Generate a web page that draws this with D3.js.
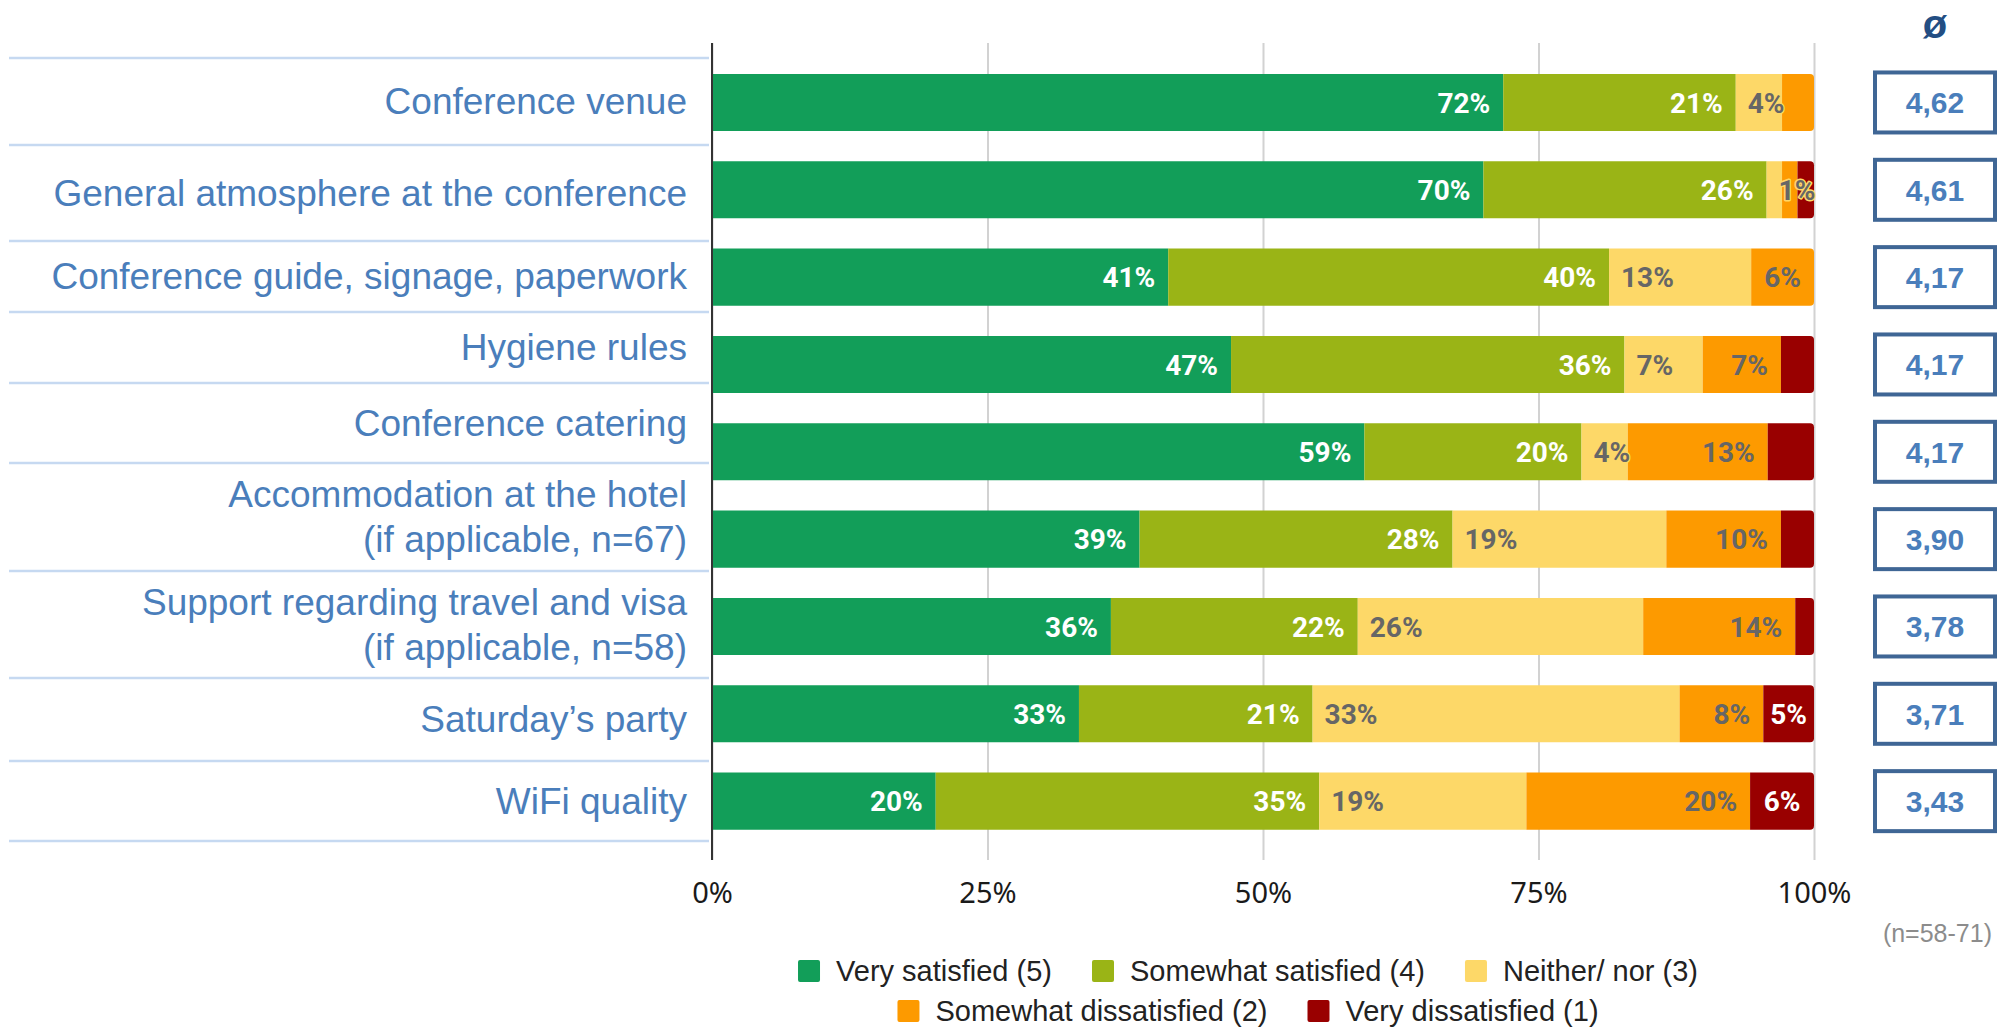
<!DOCTYPE html>
<html>
<head>
<meta charset="utf-8">
<script src="https://cdn.jsdelivr.net/npm/d3@7"></script>
<style>
body { margin: 0; background: #fff; }
svg { display: block; }
</style>
</head>
<body>
<svg id="chart" width="2012" height="1029"></svg>
<script>
// data (percent of respondents)
const categories = [
    ["Conference venue"],
    ["General atmosphere at the conference"],
    ["Conference guide, signage, paperwork"],
    ["Hygiene rules"],
    ["Conference catering"],
    ["Accommodation at the hotel", "(if applicable, n=67)"],
    ["Support regarding travel and visa", "(if applicable, n=58)"],
    ["Saturday’s party"],
    ["WiFi quality"]
];
const seriesNames = ["Very satisfied (5)", "Somewhat satisfied (4)", "Neither/ nor (3)", "Somewhat dissatisfied (2)", "Very dissatisfied (1)"];
const verySatisfied     = [71.8, 70.0, 41.4, 47.1, 59.2, 38.8, 36.2, 33.3, 20.3];
const somewhatSatisfied = [21.1, 25.7, 40.0, 35.7, 19.7, 28.4, 22.4, 21.2, 34.8];
const neitherNor        = [4.2, 1.4, 12.9, 7.1, 4.2, 19.4, 25.9, 33.3, 18.8];
const somewhatDissat    = [2.9, 1.4, 5.7, 7.1, 12.7, 10.4, 13.8, 7.6, 20.3];
const veryDissat        = [0, 1.5, 0, 3.0, 4.2, 3.0, 1.7, 4.6, 5.8];
const averages = [4.62, 4.61, 4.17, 4.17, 4.17, 3.90, 3.78, 3.71, 3.43];
const xTicks = [0, 25, 50, 75, 100];
const sampleNote = "(n=58-71)";

const colors = ["#129e59", "#9ab416", "#fdd868", "#fd9a00", "#990000"];

// layout
const svg = d3.select("#chart");
const x = d3.scaleLinear().domain([0, 100]).range([712, 1814]);
const y = d3.scaleBand().domain(d3.range(categories.length))
    .range([58.8, 844.8]).paddingInner(0.347).paddingOuter(0.1735);
const gridTop = 43, gridBottom = 860;
// borders of the label cells on the left
const labelCells = [58, 145, 241, 312, 383, 463, 571, 678, 761, 841];

const keys = ["v0", "v1", "v2", "v3", "v4"];
const rows = categories.map((c, i) => ({
    i: i,
    v0: verySatisfied[i], v1: somewhatSatisfied[i], v2: neitherNor[i],
    v3: somewhatDissat[i], v4: veryDissat[i]
}));
const stacked = d3.stack().keys(keys)(rows);

// gridlines
svg.append("g")
    .attr("transform", `translate(0,${gridTop})`)
    .call(d3.axisTop(x).tickValues(xTicks).tickSize(-(gridBottom - gridTop)).tickFormat(""))
    .call(g => g.select(".domain").remove())
    .call(g => g.selectAll("line").attr("stroke", "#d2d2d2").attr("stroke-width", 2));

// tick labels
svg.append("g")
    .attr("transform", `translate(0,${gridBottom})`)
    .call(d3.axisBottom(x).tickValues(xTicks).tickSize(0).tickPadding(22).tickFormat(d => d + "%"))
    .call(g => g.select(".domain").remove())
    .call(g => g.selectAll("text")
        .attr("font-family", "'Noto Sans', sans-serif")
        .attr("font-size", 29)
        .attr("fill", "#1a1a1a"));

// label separators
svg.append("g").selectAll("line")
    .data(labelCells)
    .join("line")
    .attr("x1", 9).attr("x2", 709)
    .attr("y1", d => d).attr("y2", d => d)
    .attr("stroke", "#c6d9f1").attr("stroke-width", 2.5);

// category labels
const lineH = 45;
const labelG = svg.append("g")
    .attr("font-family", "'Liberation Sans', Arial, sans-serif")
    .attr("font-size", 37)
    .attr("fill", "#4a7ebb")
    .attr("text-anchor", "end");
categories.forEach((lines, i) => {
    const mid = (labelCells[i] + labelCells[i + 1]) / 2;
    lines.forEach((t, k) => {
        labelG.append("text")
            .attr("x", 687)
            .attr("y", mid + (k - (lines.length - 1) / 2) * lineH)
            .attr("dy", "0.35em")
            .text(t);
    });
});

// bars
function lastIndex(r) {
    let last = 0;
    keys.forEach((k, j) => { if (r[k] > 0) last = j; });
    return last;
}
function segPath(x0, x1, y0, h, round) {
    const r = round ? Math.min(4, (x1 - x0) / 2) : 0;
    return `M${x0},${y0}H${x1 - r}Q${x1},${y0} ${x1},${y0 + r}V${y0 + h - r}Q${x1},${y0 + h} ${x1 - r},${y0 + h}H${x0}Z`;
}
stacked.forEach((s, j) => {
    svg.append("g").selectAll("path")
        .data(s.filter(d => d[1] - d[0] > 0))
        .join("path")
        .attr("fill", colors[j])
        .attr("d", d => segPath(x(d[0]), x(d[1]), y(d.data.i), y.bandwidth(), lastIndex(d.data) === j));
});

// value labels
const labelMode = ["end", "end", "start", "end", "middle"];
const labelColor = ["#fff", "#fff", "#666", "#666", "#fff"];
stacked.forEach((s, j) => {
    const g = svg.append("g")
        .attr("font-family", "Roboto, sans-serif")
        .attr("font-weight", "bold")
        .attr("font-size", 28)
        .attr("fill", labelColor[j]);
    s.forEach(d => {
        const v = d[1] - d[0];
        if (v <= 0) return;
        if (j !== 2 && v < 4.4) return;
        let xp, anchor;
        if (labelMode[j] === "end") { xp = x(d[1]) - 13; anchor = "end"; }
        else if (labelMode[j] === "start") { xp = x(d[0]) + 12; anchor = "start"; }
        else { xp = (x(d[0]) + x(d[1])) / 2; anchor = "middle"; }
        const t = g.append("text")
            .attr("x", xp)
            .attr("y", y(d.data.i) + y.bandwidth() / 2)
            .attr("dy", "0.36em")
            .attr("text-anchor", anchor)
            .text(Math.round(v) + "%");
        if (j === 2) {
            t.attr("stroke", colors[2]).attr("stroke-width", 3)
             .attr("paint-order", "stroke").attr("stroke-linejoin", "round");
        }
    });
});

// axis line at 0%
svg.append("line")
    .attr("x1", x(0)).attr("x2", x(0))
    .attr("y1", gridTop).attr("y2", gridBottom)
    .attr("stroke", "#333").attr("stroke-width", 2);

// averages column
const boxX = 1875, boxW = 120, boxH = 60;
const fmtAvg = v => d3.format(".2f")(v).replace(".", ",");
svg.append("text")
    .attr("x", boxX + boxW / 2).attr("y", 38)
    .attr("text-anchor", "middle")
    .attr("font-family", "'Liberation Sans', Arial, sans-serif")
    .attr("font-weight", "bold")
    .attr("font-size", 40)
    .attr("fill", "#234e83")
    .text("ø");
const avgG = svg.append("g").selectAll("g")
    .data(averages)
    .join("g")
    .attr("transform", (d, i) => `translate(${boxX},${y(i) + y.bandwidth() / 2 - boxH / 2})`);
avgG.append("rect")
    .attr("width", boxW).attr("height", boxH)
    .attr("fill", "#fff")
    .attr("stroke", "#3f6695").attr("stroke-width", 4);
avgG.append("text")
    .attr("x", boxW / 2).attr("y", boxH / 2)
    .attr("dy", "0.36em")
    .attr("text-anchor", "middle")
    .attr("font-family", "'Liberation Sans', Arial, sans-serif")
    .attr("font-weight", "bold")
    .attr("font-size", 30)
    .attr("fill", "#4a7ebb")
    .text(d => fmtAvg(d));

// sample note
svg.append("text")
    .attr("x", 1992).attr("y", 942)
    .attr("text-anchor", "end")
    .attr("font-family", "'Liberation Sans', Arial, sans-serif")
    .attr("font-size", 25)
    .attr("fill", "#8c8c8c")
    .text(sampleNote);

// legend, two centred rows
const legendRows = [[0, 1, 2], [3, 4]];
const legendY = [971, 1011];
const legendCenter = 1248, sw = 22, swGap = 16, itemGap = 40;
legendRows.forEach((items, r) => {
    const g = svg.append("g")
        .attr("font-family", "'Liberation Sans', Arial, sans-serif")
        .attr("font-size", 29)
        .attr("fill", "#222");
    const parts = items.map(j => {
        const it = g.append("g");
        it.append("rect").attr("width", sw).attr("height", sw).attr("rx", 2)
            .attr("y", legendY[r] - sw / 2).attr("fill", colors[j]);
        const t = it.append("text").attr("x", sw + swGap).attr("y", legendY[r])
            .attr("dy", "0.35em").text(seriesNames[j]);
        return { it: it, w: sw + swGap + t.node().getComputedTextLength() };
    });
    const total = d3.sum(parts, p => p.w) + itemGap * (parts.length - 1);
    let cx = legendCenter - total / 2;
    parts.forEach(p => {
        p.it.attr("transform", `translate(${cx},0)`);
        cx += p.w + itemGap;
    });
});
</script>
</body>
</html>
